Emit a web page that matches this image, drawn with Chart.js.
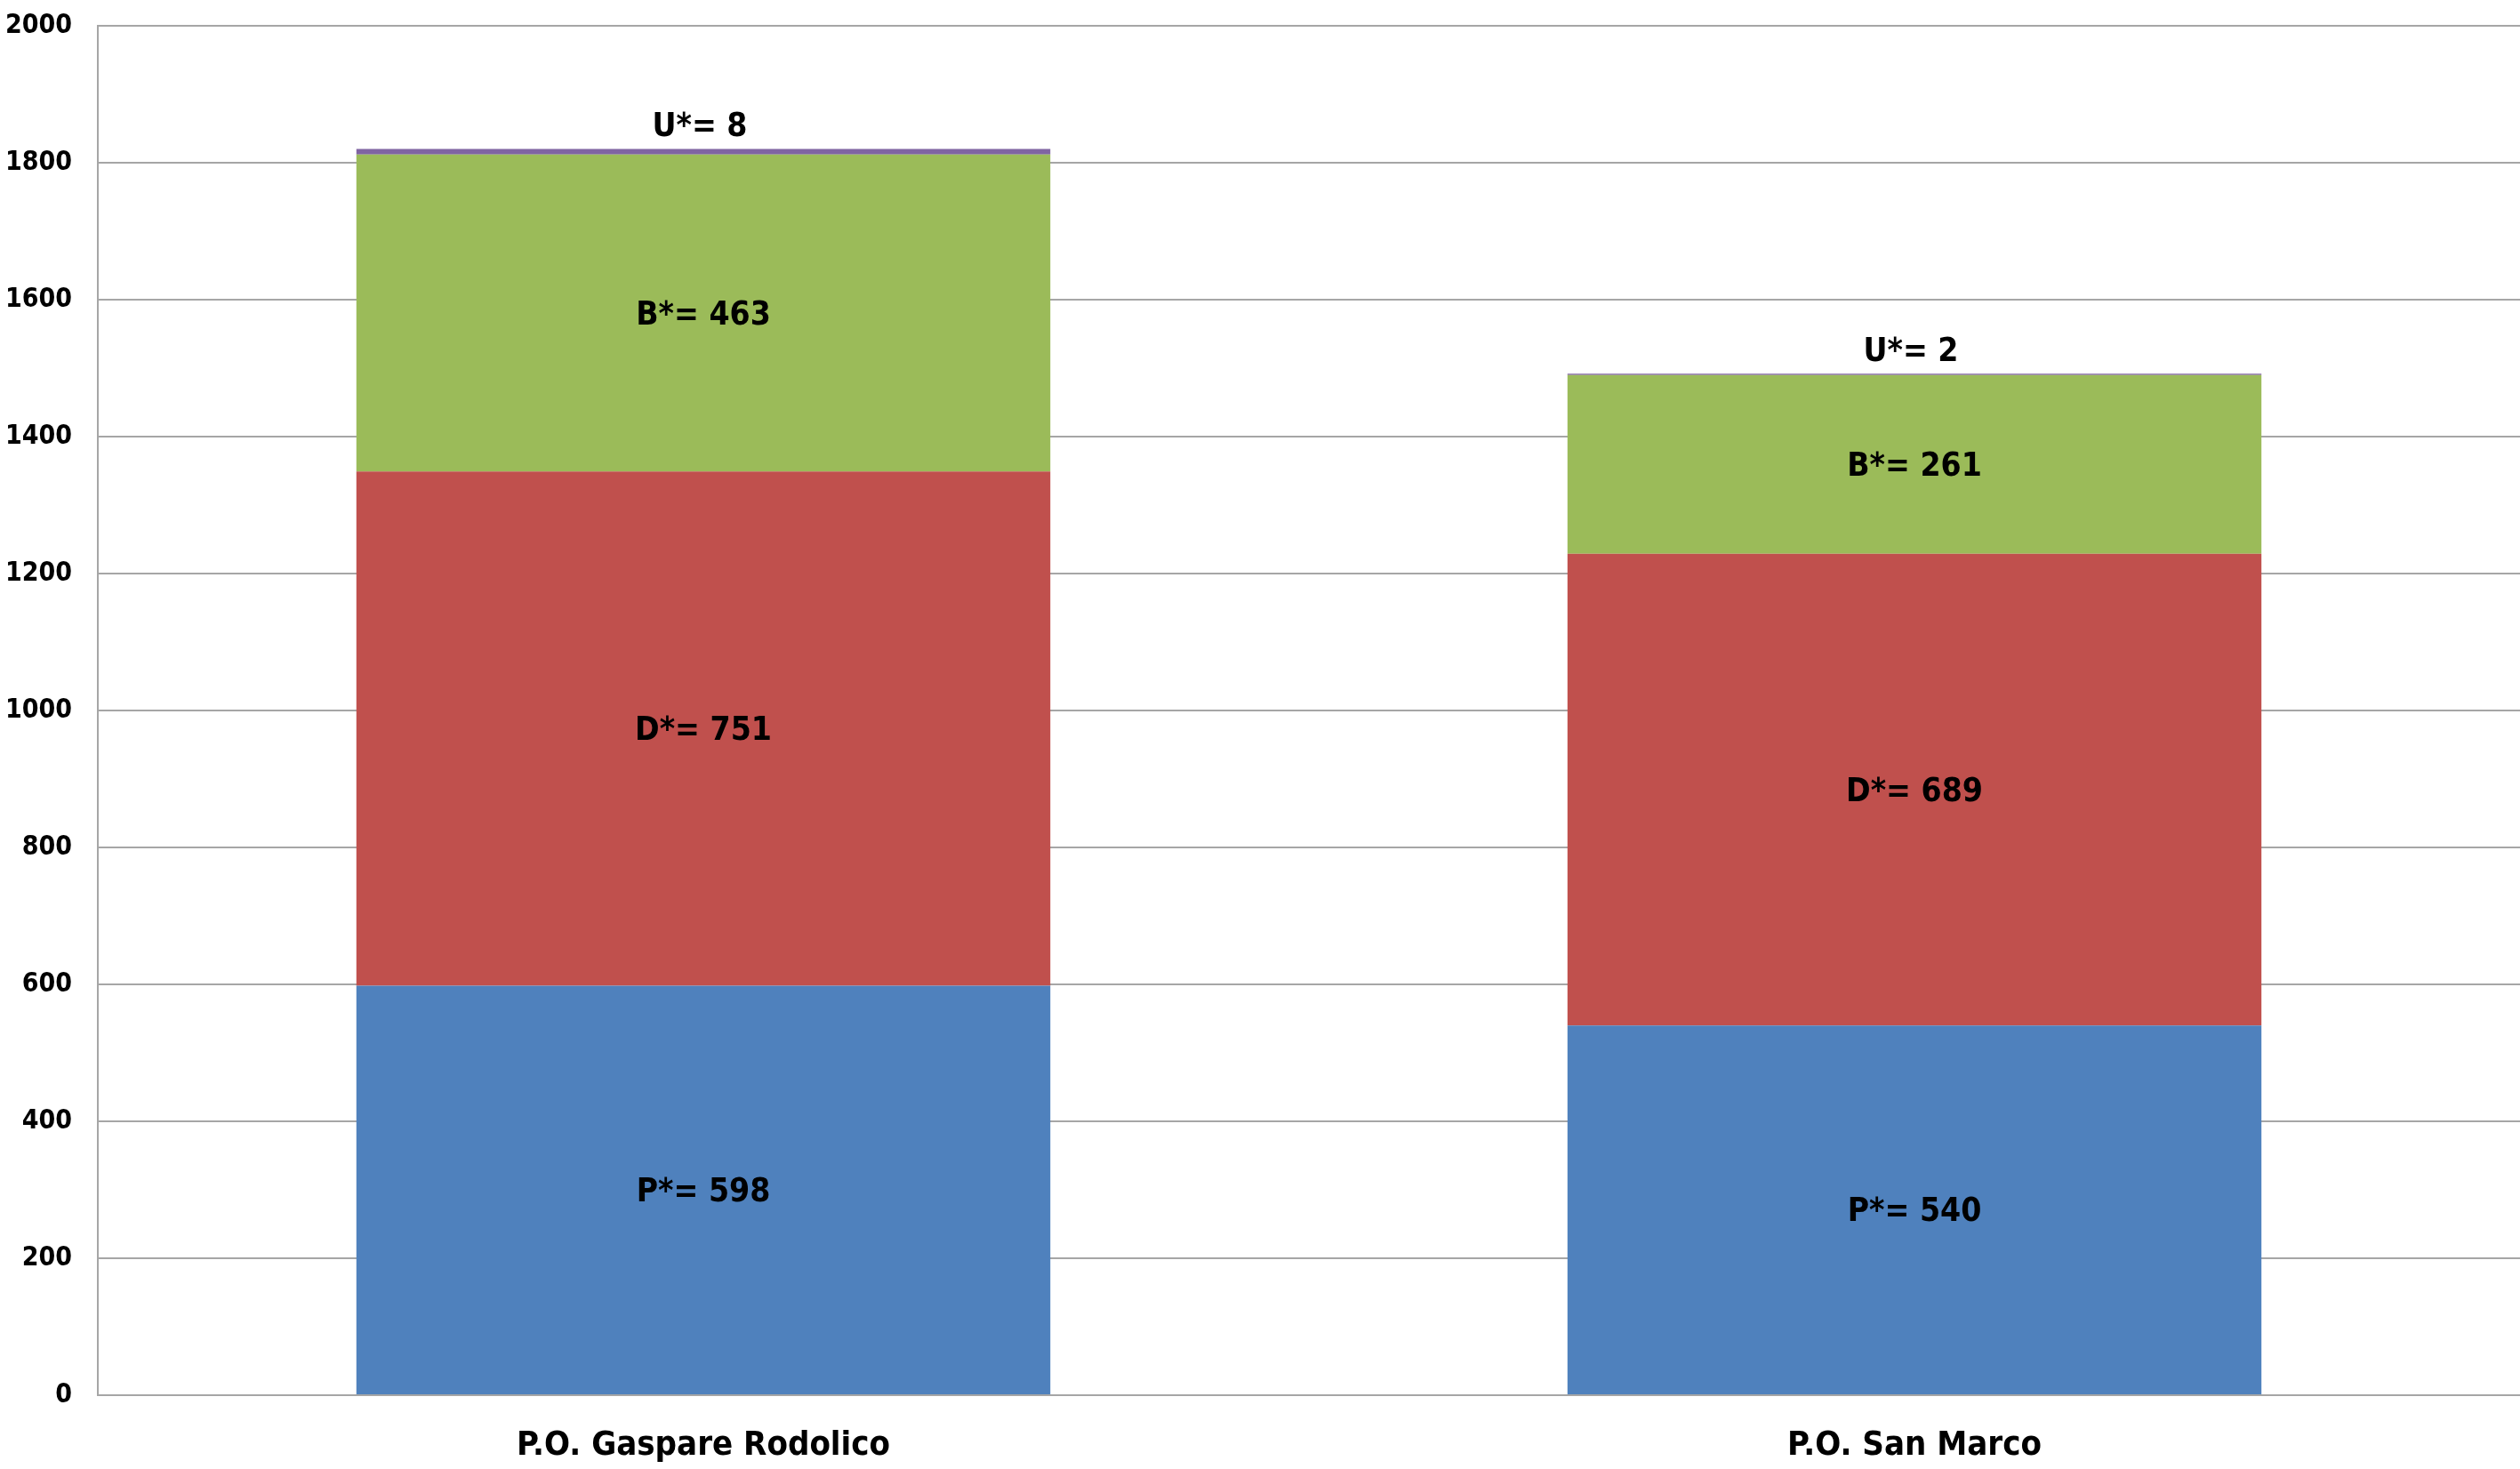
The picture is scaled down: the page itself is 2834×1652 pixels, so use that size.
<!DOCTYPE html>
<html>
<head>
<meta charset="utf-8">
<script src="https://cdn.jsdelivr.net/npm/chart.js@4.4.1/dist/chart.umd.min.js"></script>
<style>
  html, body { margin: 0; padding: 0; background: #fff; }
  #wrap { width: 2834px; height: 1652px; }
</style>
</head>
<body>
<div id="wrap"><canvas id="c" width="2834" height="1652"></canvas></div>
<script>
// data
const categories = ["P.O. Gaspare Rodolico", "P.O. San Marco"];
const seriesNames = ["P*", "D*", "B*", "U*"];
const valuesP = [598, 540];
const valuesD = [751, 689];
const valuesB = [463, 261];
const valuesU = [8, 2];
const yTicks = [0, 200, 400, 600, 800, 1000, 1200, 1400, 1600, 1800, 2000];

const colors = ["#4F81BD", "#C0504D", "#9BBB59", "#8064A2"];
const FONT = "'Liberation Sans Narrow', 'DejaVu Sans Condensed', 'Liberation Sans', sans-serif";

// labels on the segments, "U*" goes above the bar
const segLabels = {
    id: "segLabels",
    afterDatasetsDraw(chart) {
        const ctx = chart.ctx;
        ctx.save();
        ctx.fillStyle = "#000";
        ctx.font = "bold 37px " + FONT;
        ctx.textAlign = "center";
        ctx.textBaseline = "middle";
        chart.data.datasets.forEach((ds, di) => {
            const meta = chart.getDatasetMeta(di);
            meta.data.forEach((bar, i) => {
                const p = bar.getProps(["x", "y", "base"], true);
                const txt = seriesNames[di] + "= " + ds.data[i];
                if (di === 3) {
                    ctx.fillText(txt, p.x - 4, p.y - 24);
                } else {
                    ctx.fillText(txt, p.x, (p.y + p.base) / 2 + 3);
                }
            });
        });
        ctx.restore();
    }
};

const seriesValues = [valuesP, valuesD, valuesB, valuesU];

new Chart(document.getElementById("c"), {
    type: "bar",
    data: {
        labels: categories,
        datasets: seriesNames.map((n, k) => ({
            label: n,
            data: seriesValues[k],
            backgroundColor: colors[k],
            borderWidth: 0,
            barPercentage: 0.573,
            categoryPercentage: 1.0
        }))
    },
    options: {
        responsive: false,
        animation: false,
        devicePixelRatio: 1,
        layout: { padding: { top: 29, right: 0, left: 0, bottom: 0 } },
        plugins: {
            legend: { display: false },
            tooltip: { enabled: false }
        },
        scales: {
            x: {
                stacked: true,
                grid: { display: false, drawTicks: false },
                border: { display: true, color: "#a6a6a6", width: 2 },
                ticks: {
                    color: "#000",
                    font: { family: FONT, size: 38, weight: "bold" },
                    padding: 34
                },
                afterFit(scale) {
                    scale.height = 83;
                    scale.paddingLeft = 0;
                    scale.paddingRight = 0;
                }
            },
            y: {
                stacked: true,
                min: 0,
                max: 2000,
                afterBuildTicks(scale) {
                    scale.ticks = yTicks.map(v => ({ value: v }));
                },
                grid: { color: "#a6a6a6", lineWidth: 2, drawTicks: false },
                border: { display: true, color: "#a6a6a6", width: 2 },
                ticks: {
                    color: "#000",
                    font: { family: FONT, size: 30, weight: "bold" },
                    padding: 29,
                    callback: v => String(v)
                },
                afterFit(scale) {
                    scale.width = 110;
                    scale.paddingTop = 0;
                    scale.paddingBottom = 0;
                }
            }
        }
    },
    plugins: [segLabels]
});
</script>
</body>
</html>
